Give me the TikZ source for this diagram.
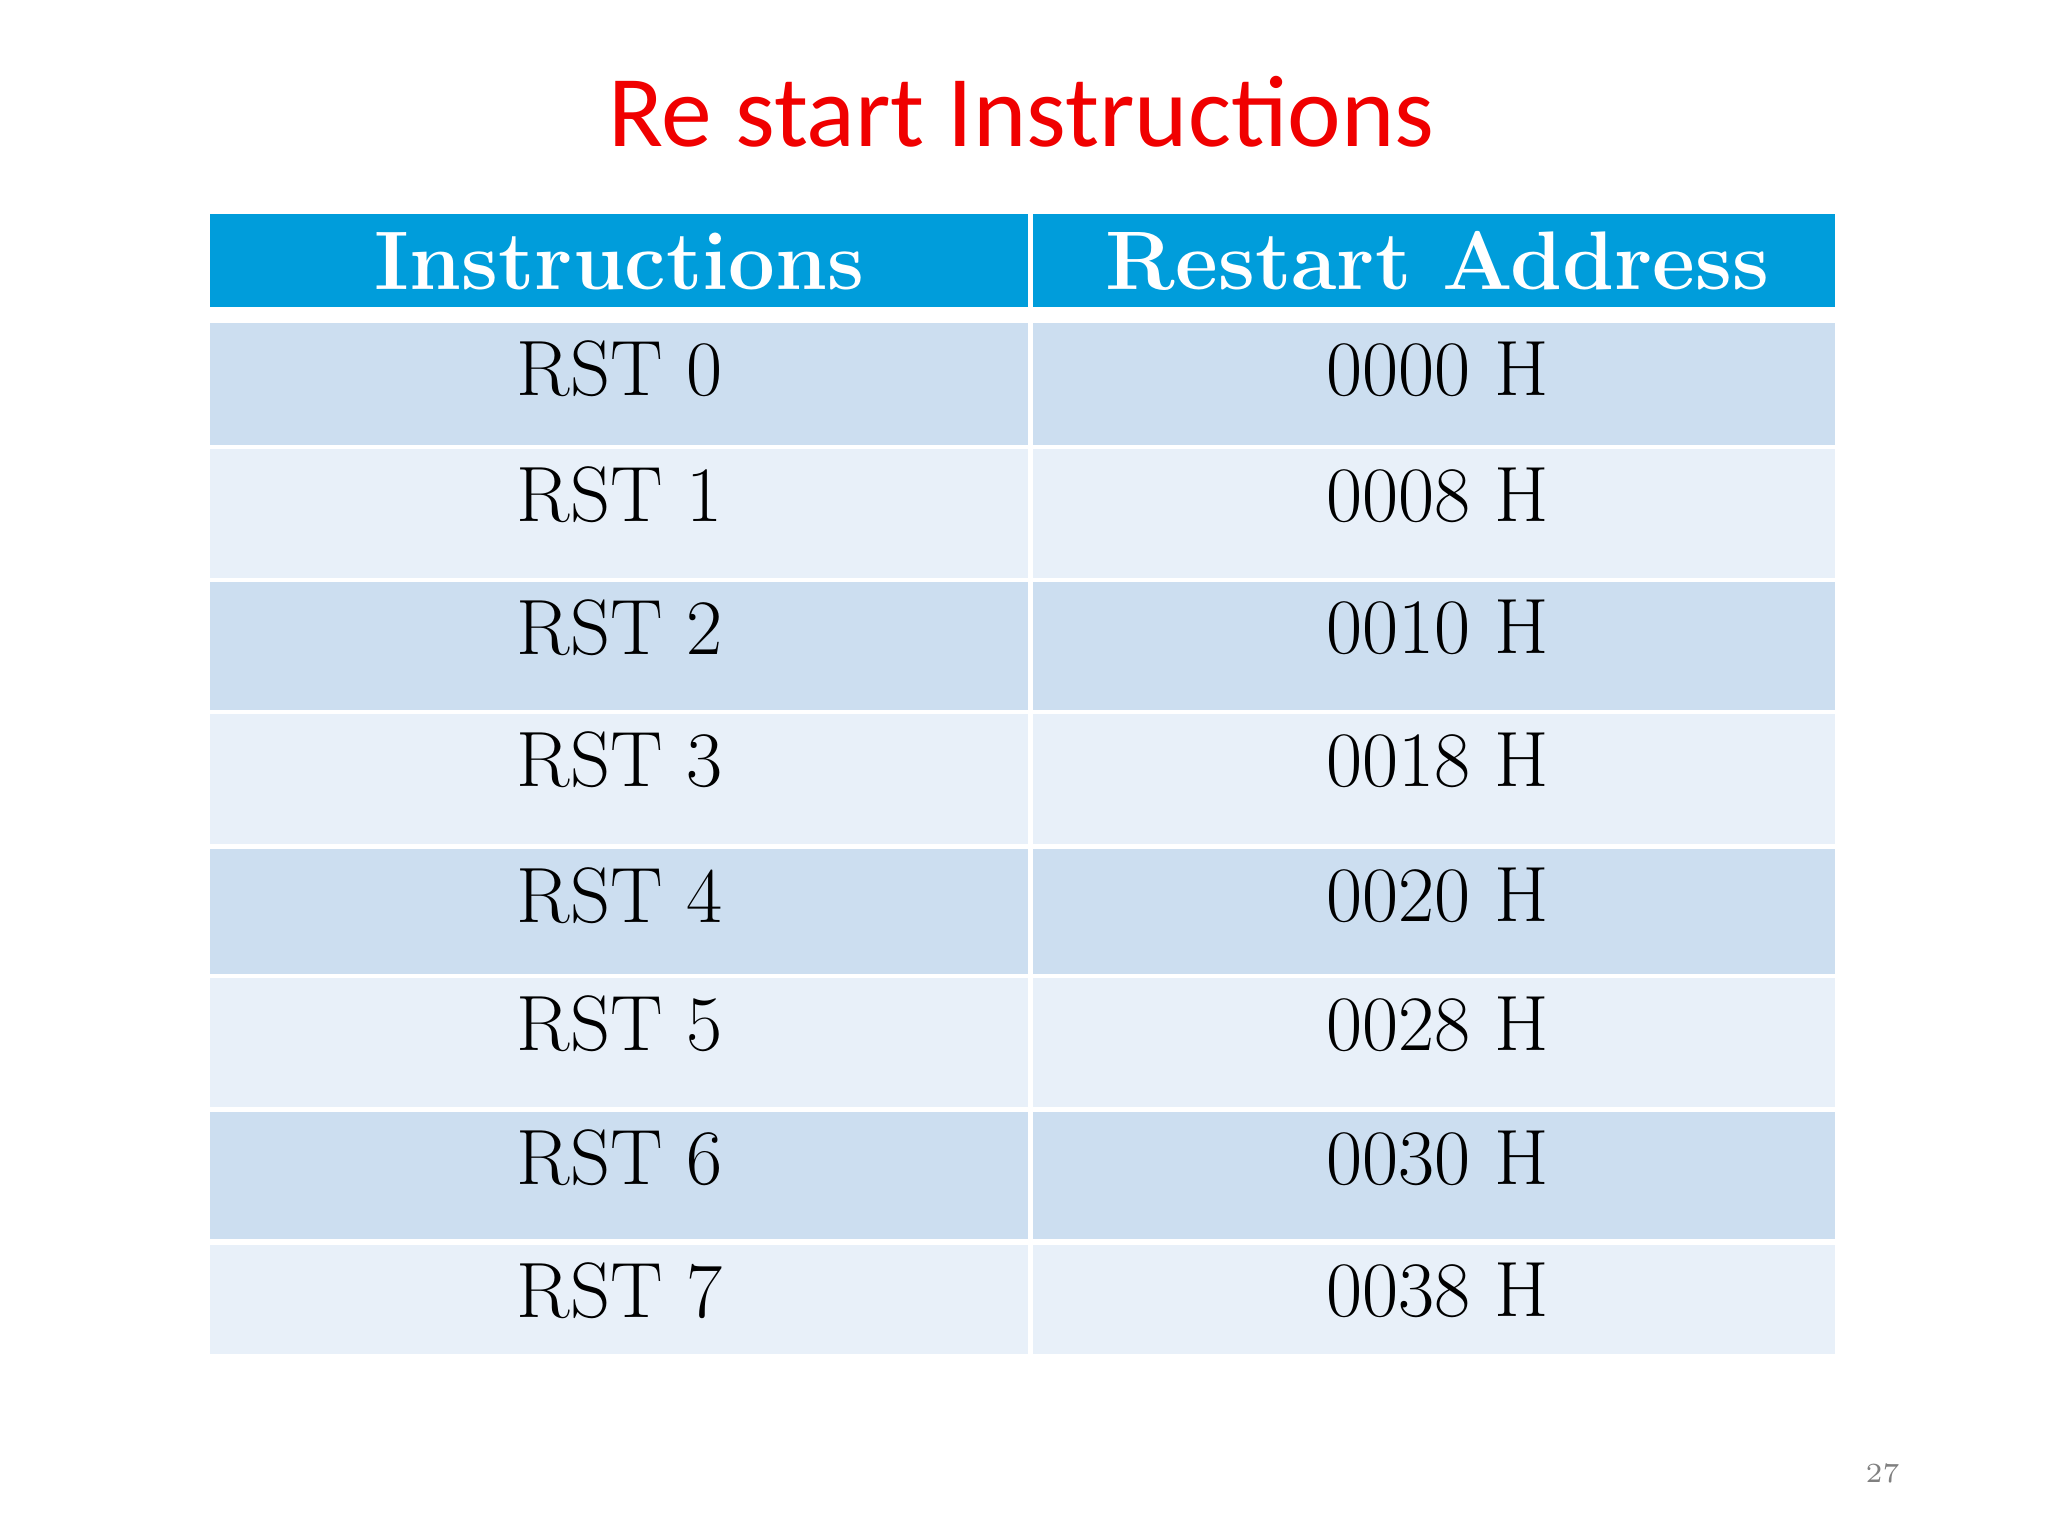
\documentclass[tikz,border=0pt]{standalone}
\usepackage{fontspec}
\newfontfamily\titlefont{Carlito}
\definecolor{hdr}{RGB}{0,157,219}
\definecolor{rowa}{RGB}{204,222,240}
\definecolor{rowb}{RGB}{232,240,249}
\definecolor{ttl}{RGB}{240,0,0}
\begin{document}
\begin{tikzpicture}[x=0.01cm,y=-0.01cm,
  cell/.style={font=\fontsize{17}{20}\selectfont},
  hcell/.style={font=\fontsize{18}{20}\selectfont\bfseries,text=white}]
\useasboundingbox (0,0) rectangle (1560,1170);
\fill[white] (0,0) rectangle (1560,1170);
\node[text=ttl,font=\titlefont\fontsize{22}{26}\selectfont] (title) at (778,85) {Re start Instructions};
\fill[hdr] (160,163) rectangle (783,234);
\fill[hdr] (787,163) rectangle (1398,234);
\node[hcell] (h1) at (472,199) {Instructions};
\node[hcell] (h2) at (1095,199) {Restart Address};
\foreach \t/\b/\c/\n/\a [count=\i] in {246/339/rowa/0/0000,342/440/rowb/1/0008,443/541/rowa/2/0010,544/643/rowb/3/0018,647/742/rowa/4/0020,745/843/rowb/5/0028,847/944/rowa/6/0030,948/1031/rowb/7/0038}{
  \fill[\c] (160,\t) rectangle (783,\b);
  \fill[\c] (787,\t) rectangle (1398,\b);
  \node[cell] (i\i) at (472,{\t+35}) {RST \oldstylenums{\n}};
  \node[cell] (a\i) at (1095,{\t+35}) {\oldstylenums{\a} H};
}
\node[text=gray,font=\fontsize{6}{7}\selectfont] (pg) at (1434,1122) {27};
\end{tikzpicture}
\end{document}
